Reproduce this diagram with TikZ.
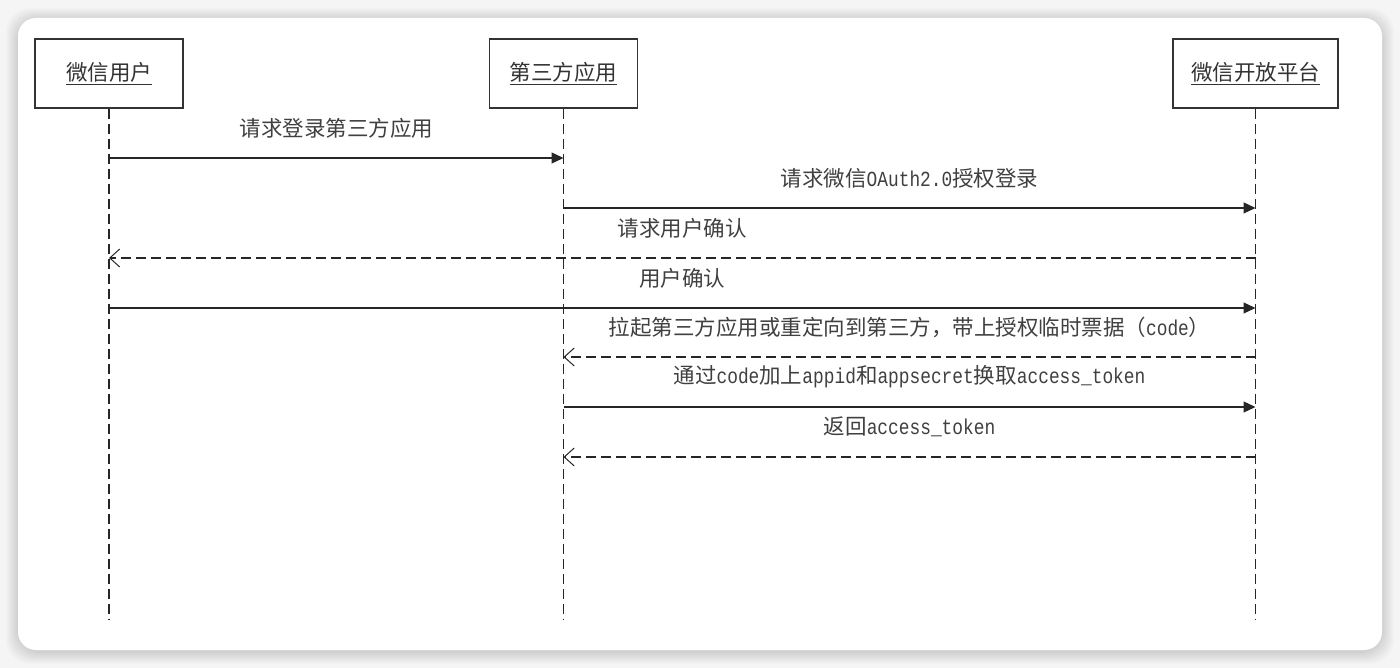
\documentclass[tikz,border=0pt]{standalone}
\usepackage{fontspec}
\setmainfont{Noto Sans CJK SC}
\newfontfamily\halfw[FakeStretch=0.83]{Liberation Mono}
\usetikzlibrary{arrows.meta}

\newcommand{\hw}[1]{{\halfw #1}}

\begin{document}
\begin{tikzpicture}[
    x = 1pt, y = -1pt,
    actor/.style = {draw=black!80, line width=1.2pt, minimum width=148pt,
        minimum height=69pt, font=\fontsize{21.5}{24}\selectfont, text=black!80},
    lifeline/.style = {draw=black!85, line width=1.3pt, dash pattern=on 10pt off 5pt},
    call/.style = {draw=black!85, line width=1.2pt, -{Triangle[length=12pt,width=11pt]}},
    reply/.style = {draw=black!85, line width=1.2pt, dash pattern=on 10pt off 5pt,
        -{Straight Barb[length=10pt,width=18pt,line width=1pt]}},
    msg/.style = {midway, yshift=30pt, font=\fontsize{21.5}{24}\selectfont, text=black!75}
]

% Background and card
\useasboundingbox (0,0) rectangle (1400,668);
\fill[black!4] (0,0) rectangle (1400,668);
\foreach \d in {1,...,12}
    \fill[black, opacity=0.012, rounded corners=24pt] (18-\d,18-\d+2) rectangle (1382+\d,650+\d+2);
\fill[white, rounded corners=18pt] (18,18) rectangle (1382,650);

% Actors
\node[actor] (user) at (109,73.5) {\underline{微信用户}};
\node[actor] (app) at (563.5,73.5) {\underline{第三方应用}};
\node[actor, minimum width=165pt] (wxopen) at (1255.5,73.5) {\underline{微信开放平台}};

% Lifelines
\coordinate (bottom) at (0,620);
\foreach \a in {user,app,wxopen}
    \draw[lifeline] (\a.south) -- (\a |- bottom);

% Messages
\foreach \y/\from/\to/\kind/\txt in {
    158/user/app/call/{请求登录第三方应用},
    208/app/wxopen/call/{请求微信\hw{OAuth2.0}授权登录},
    258/wxopen/user/reply/{请求用户确认},
    308/user/wxopen/call/{用户确认},
    357/wxopen/app/reply/{拉起第三方应用或重定向到第三方，带上授权临时票据（\hw{code}）},
    407/app/wxopen/call/{通过\hw{code}加上\hw{appid}和\hw{appsecret}换取\hw{access\_token}},
    457/wxopen/app/reply/{返回\hw{access\_token}}}
    \draw[\kind] (\from |- 0,\y) -- (\to |- 0,\y) node[msg] {\txt};

\end{tikzpicture}
\end{document}
